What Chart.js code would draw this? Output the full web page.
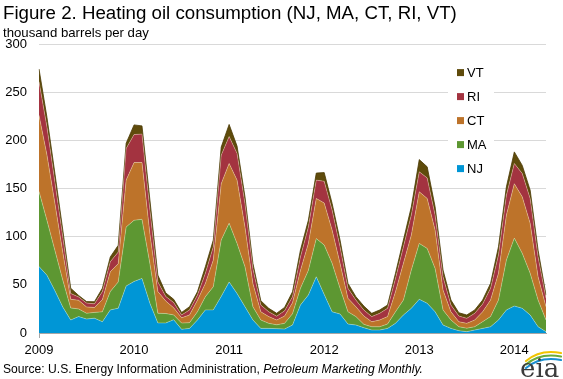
<!DOCTYPE html>
<html>
<head>
<meta charset="utf-8">
<script src="https://cdn.jsdelivr.net/npm/chart.js@4"></script>
<style>
body { margin: 0; background: #fff; }
#wrap { position: relative; width: 563px; height: 379px; font-family: 'Liberation Sans', Arial, sans-serif; color: #000; }
canvas { position: absolute; left: 0; top: 0; }
.txt { position: absolute; left: 3px; white-space: nowrap; }
</style>
</head>
<body>
<div id="wrap">
<canvas id="chart" width="563" height="379"></canvas>
<div class="txt" style="top:4px;font-size:18.7px;line-height:18.7px">Figure 2. Heating oil consumption (NJ, MA, CT, RI, VT)</div>
<div class="txt" style="top:26px;font-size:13.2px;line-height:13px">thousand barrels per day</div>
<div class="txt" style="top:363px;font-size:12.1px;line-height:12px">Source: U.S. Energy Information Administration, <i>Petroleum Marketing Monthly.</i></div>
</div>
<script>
// monthly, Jan 2009 - May 2014, thousand barrels per day
const years = ['2009', '2010', '2011', '2012', '2013', '2014'];
const monthNames = ['Jan','Feb','Mar','Apr','May','Jun','Jul','Aug','Sep','Oct','Nov','Dec'];

const nj = [69,60,44,27,13.5,17,14.5,15.4,11.7,24,25.7,48.8,
            53.5,56.7,30.8,10.5,10.4,13.8,3.8,4.8,13.5,24,24,38,
            53,41,27.3,13.5,4.8,4.8,4.5,4.1,8.3,29,39.4,58.4,
            40,22,19.7,9.3,8.3,5.5,3.1,3.1,4.8,10,18.7,25.6,
            35,30.8,22,8.3,4.8,2.4,1.4,3.1,4.8,6.5,13.5,23.9,
            28,25.6,18.7,6.5,1.4];
const ma = [78,57,42,28,12.5,8,6,6,10.3,19,27.3,61.2,
            63.5,61.3,41.2,10,9.8,5,6.5,5.9,8.5,13.7,24,58.5,
            61,52,41.5,13.8,8.7,5.2,4,5.9,11.7,17.4,25.6,39.6,
            51.3,50.3,26.7,12.7,8.7,3.5,3.4,3.4,4.5,12,15.5,39.8,
            58,57,45,15.6,8.7,4.1,3.6,3.4,6.9,10.5,20.7,51.8,
            70.5,57.1,43.3,27.7,12.1];
const ct = [79,68,49,29,9,9,6.6,5.1,12.6,20.6,19,48.7,
            60,59,31,22.6,13,7.3,5.5,8,12,13.8,27.7,58.5,
            62,65.7,41.2,24.2,8.5,7,5,7.6,11.5,18.6,28,41.7,
            43.7,34.5,25.9,14,10.3,8.7,5.2,7,7.7,20.8,38.1,36.3,
            53.6,51.9,39.8,20.7,8.5,5.2,5,7,10.3,17.2,27.8,46.7,
            56.5,58.7,51.8,24.2,13.8];
const ri = [35,29,22,16,6,3.5,4,3.8,8.4,10.4,12,32.8,
            29,29.5,24.6,10,4.8,5.5,3,5.3,5.4,10.5,13.8,29.6,
            28,27.7,24.5,15.5,7,5,4,5.4,6.2,14,17,19,
            22.5,20.8,17.2,10.4,6.9,6.2,5.3,6.9,8.6,13.9,17.2,20.9,
            20.7,21.3,15.6,13.9,7,5.9,5.2,6.9,8,12.2,19,20.6,
            21,24.2,25.9,20.6,8.7];
const vt = [13,10,9,7,5.5,1.5,1.5,2.2,3.5,5,7,5.5,
            10,8.5,10.4,7,3.6,3.4,2.5,3.3,3.4,6.8,7,8.4,
            12.5,7.6,6.9,5.3,4.5,3.6,3,3.6,5.1,7,7,7.3,
            9,6.9,7,5.1,3.5,4.1,3.4,3.5,3.4,5.3,7,8.4,
            12.7,11.5,8.6,6.9,5.2,3.4,3.5,3.5,4.2,5.1,8.5,8.7,
            12,8.4,8.6,7,3.4];

let labels = [];
years.forEach(y => monthNames.forEach(m => labels.push(m + ' ' + y)));
labels = labels.slice(0, nj.length);

function area(label, data, color, idx) {
    return {
        label: label,
        data: data,
        backgroundColor: color,
        borderColor: idx === 4 ? '#4a3a05' : 'rgba(255,255,215,0.4)',
        borderWidth: 0.8,
        pointRadius: 0,
        tension: 0,
        fill: idx === 0 ? 'origin' : '-1'
    };
}

const legendBox = {
    id: 'legendBox',
    afterDatasetsDraw(chart) {
        const c = chart.ctx;
        c.save();
        c.fillStyle = '#fff';
        c.fillRect(448, 58, 46, 122);
        c.font = '13px "Liberation Sans", Arial, sans-serif';
        c.textBaseline = 'middle';
        const sets = chart.data.datasets.slice().reverse();
        sets.forEach((ds, i) => {
            let yc = 72.6 + i * 24;
            c.fillStyle = ds.backgroundColor;
            c.fillRect(457, yc - 3.5, 7, 7);
            c.fillStyle = '#000';
            c.fillText(ds.label, 467, yc + 0.5);
        });
        c.restore();
    }
};

const eiaLogo = {
    id: 'eiaLogo',
    afterDraw(chart) {
        const c = chart.ctx;
        c.save();
        c.lineCap = 'round';
        let arcs = [['#f2c500', 352], ['#6aab3a', 355.5], ['#1a8fd0', 359]];
        arcs.forEach(a => {
            c.strokeStyle = a[0];
            c.lineWidth = 2.2;
            c.beginPath();
            c.moveTo(526, a[1] + 9);
            c.quadraticCurveTo(540, a[1] - 3, 561, a[1] + 1);
            c.stroke();
        });
        c.fillStyle = '#3b3b3b';
        c.font = '26px "DejaVu Serif", "Liberation Serif", serif';
        c.textBaseline = 'alphabetic';
        c.fillText('eia', 520, 377);
        c.restore();
    }
};

new Chart(document.getElementById('chart'), {
    type: 'line',
    data: {
        labels: labels,
        datasets: [
            area('NJ', nj, '#0096d6', 0),
            area('MA', ma, '#5d9732', 1),
            area('CT', ct, '#bd732a', 2),
            area('RI', ri, '#a33340', 3),
            area('VT', vt, '#5f4b0b', 4)
        ]
    },
    options: {
        responsive: false,
        animation: false,
        devicePixelRatio: 1,
        layout: { padding: { left: 0, right: 17, top: 44, bottom: 22 } },
        plugins: {
            legend: { display: false },
            tooltip: { enabled: false }
        },
        scales: {
            x: {
                type: 'category',
                ticks: {
                    autoSkip: false,
                    maxRotation: 0,
                    padding: 5,
                    color: '#000',
                    font: { size: 13, family: "'Liberation Sans', Arial, sans-serif" },
                    callback: function(value, index) {
                        return index % 12 === 0 ? years[index / 12] : null;
                    }
                },
                grid: {
                    drawOnChartArea: false,
                    tickLength: 5,
                    color: ctx => ctx.index % 12 === 0 ? '#a6a6a6' : 'rgba(0,0,0,0)'
                },
                border: { color: '#a6a6a6', width: 1 },
                afterFit: s => { s.height = 24; }
            },
            y: {
                stacked: true,
                min: 0,
                max: 300,
                ticks: {
                    stepSize: 50,
                    padding: 12,
                    color: '#000',
                    font: { size: 13, family: "'Liberation Sans', Arial, sans-serif" }
                },
                grid: { color: '#d9d9d9', drawTicks: false },
                border: { display: false },
                afterFit: s => { s.width = 39; }
            }
        }
    },
    plugins: [legendBox, eiaLogo]
});
</script>
</body>
</html>
